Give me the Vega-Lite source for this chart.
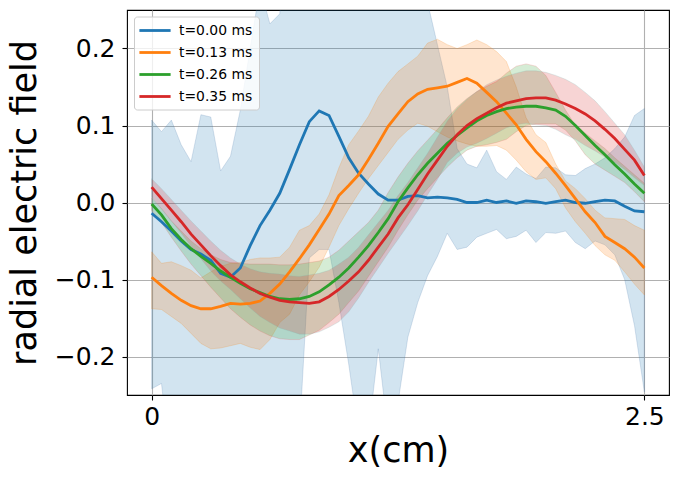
{
  "$schema": "https://vega.github.io/schema/vega-lite/v6.json",
  "width": 542,
  "height": 385,
  "autosize": "none",
  "padding": {"left": 127, "top": 10, "right": 10, "bottom": 87},
  "background": "white",
  "config": {
    "font": "DejaVu Sans",
    "view": {"stroke": "#000000", "strokeWidth": 1.1},
    "axis": {
      "domain": false,
      "grid": true,
      "gridColor": "#b0b0b0",
      "gridWidth": 1.1,
      "tickColor": "#000000",
      "tickSize": 5,
      "tickWidth": 1.1,
      "labelFont": "DejaVu Sans",
      "labelFontSize": 25,
      "labelColor": "#000000",
      "titleFont": "DejaVu Sans",
      "titleFontSize": 35,
      "titleFontWeight": "normal",
      "titleColor": "#000000"
    }
  },
  "data": {
    "values": [
      {"t": "t=0.00 ms", "x": 0, "y": -0.014, "lo": -0.242, "hi": 0.107},
      {"t": "t=0.00 ms", "x": 0.05, "y": -0.025, "lo": -0.235, "hi": 0.092},
      {"t": "t=0.00 ms", "x": 0.1, "y": -0.037, "lo": -0.35, "hi": 0.107},
      {"t": "t=0.00 ms", "x": 0.15, "y": -0.05, "lo": -0.35, "hi": 0.075},
      {"t": "t=0.00 ms", "x": 0.2, "y": -0.061, "lo": -0.35, "hi": 0.053},
      {"t": "t=0.00 ms", "x": 0.25, "y": -0.067, "lo": -0.35, "hi": 0.114},
      {"t": "t=0.00 ms", "x": 0.3, "y": -0.075, "lo": -0.35, "hi": 0.111},
      {"t": "t=0.00 ms", "x": 0.35, "y": -0.092, "lo": -0.35, "hi": 0.041},
      {"t": "t=0.00 ms", "x": 0.4, "y": -0.097, "lo": -0.35, "hi": 0.06},
      {"t": "t=0.00 ms", "x": 0.45, "y": -0.085, "lo": -0.35, "hi": 0.12},
      {"t": "t=0.00 ms", "x": 0.5, "y": -0.056, "lo": -0.35, "hi": 0.2},
      {"t": "t=0.00 ms", "x": 0.55, "y": -0.03, "lo": -0.35, "hi": 0.28},
      {"t": "t=0.00 ms", "x": 0.6, "y": -0.01, "lo": -0.35, "hi": 0.232},
      {"t": "t=0.00 ms", "x": 0.65, "y": 0.012, "lo": -0.35, "hi": 0.245},
      {"t": "t=0.00 ms", "x": 0.7, "y": 0.043, "lo": -0.35, "hi": 0.4},
      {"t": "t=0.00 ms", "x": 0.75, "y": 0.075, "lo": -0.3, "hi": 0.4},
      {"t": "t=0.00 ms", "x": 0.8, "y": 0.105, "lo": -0.072, "hi": 0.4},
      {"t": "t=0.00 ms", "x": 0.85, "y": 0.119, "lo": -0.061, "hi": 0.4},
      {"t": "t=0.00 ms", "x": 0.9, "y": 0.113, "lo": -0.061, "hi": 0.4},
      {"t": "t=0.00 ms", "x": 0.95, "y": 0.086, "lo": -0.13, "hi": 0.4},
      {"t": "t=0.00 ms", "x": 1.0, "y": 0.058, "lo": -0.21, "hi": 0.4},
      {"t": "t=0.00 ms", "x": 1.05, "y": 0.038, "lo": -0.3, "hi": 0.4},
      {"t": "t=0.00 ms", "x": 1.1, "y": 0.024, "lo": -0.3, "hi": 0.4},
      {"t": "t=0.00 ms", "x": 1.15, "y": 0.011, "lo": -0.19, "hi": 0.4},
      {"t": "t=0.00 ms", "x": 1.2, "y": 0.003, "lo": -0.3, "hi": 0.4},
      {"t": "t=0.00 ms", "x": 1.25, "y": 0.003, "lo": -0.26, "hi": 0.4},
      {"t": "t=0.00 ms", "x": 1.3, "y": 0.008, "lo": -0.175, "hi": 0.4},
      {"t": "t=0.00 ms", "x": 1.35, "y": 0.009, "lo": -0.13, "hi": 0.4},
      {"t": "t=0.00 ms", "x": 1.4, "y": 0.006, "lo": -0.095, "hi": 0.26},
      {"t": "t=0.00 ms", "x": 1.45, "y": 0.007, "lo": -0.07, "hi": 0.205},
      {"t": "t=0.00 ms", "x": 1.5, "y": 0.006, "lo": -0.04, "hi": 0.15},
      {"t": "t=0.00 ms", "x": 1.55, "y": 0.004, "lo": -0.061, "hi": 0.07},
      {"t": "t=0.00 ms", "x": 1.6, "y": 0.0, "lo": -0.058, "hi": 0.05},
      {"t": "t=0.00 ms", "x": 1.65, "y": 0.0, "lo": -0.045, "hi": 0.045},
      {"t": "t=0.00 ms", "x": 1.7, "y": 0.003, "lo": -0.04, "hi": 0.068},
      {"t": "t=0.00 ms", "x": 1.75, "y": 0.0, "lo": -0.035, "hi": 0.04},
      {"t": "t=0.00 ms", "x": 1.8, "y": 0.002, "lo": -0.047, "hi": 0.03},
      {"t": "t=0.00 ms", "x": 1.85, "y": -0.001, "lo": -0.044, "hi": 0.046},
      {"t": "t=0.00 ms", "x": 1.9, "y": 0.002, "lo": -0.036, "hi": 0.037},
      {"t": "t=0.00 ms", "x": 1.95, "y": 0.001, "lo": -0.052, "hi": 0.031},
      {"t": "t=0.00 ms", "x": 2.0, "y": -0.001, "lo": -0.039, "hi": 0.046},
      {"t": "t=0.00 ms", "x": 2.05, "y": 0.001, "lo": -0.04, "hi": 0.045},
      {"t": "t=0.00 ms", "x": 2.1, "y": 0.003, "lo": -0.037, "hi": 0.036},
      {"t": "t=0.00 ms", "x": 2.15, "y": 0.0, "lo": -0.052, "hi": 0.035},
      {"t": "t=0.00 ms", "x": 2.2, "y": -0.001, "lo": -0.06, "hi": 0.044},
      {"t": "t=0.00 ms", "x": 2.25, "y": 0.001, "lo": -0.05, "hi": 0.05},
      {"t": "t=0.00 ms", "x": 2.3, "y": 0.003, "lo": -0.055, "hi": 0.058},
      {"t": "t=0.00 ms", "x": 2.35, "y": 0.002, "lo": -0.068, "hi": 0.07},
      {"t": "t=0.00 ms", "x": 2.4, "y": -0.005, "lo": -0.1, "hi": 0.085},
      {"t": "t=0.00 ms", "x": 2.45, "y": -0.011, "lo": -0.16, "hi": 0.113},
      {"t": "t=0.00 ms", "x": 2.5, "y": -0.012, "lo": -0.246, "hi": 0.122},

      {"t": "t=0.13 ms", "x": 0, "y": -0.097, "lo": -0.138, "hi": -0.064},
      {"t": "t=0.13 ms", "x": 0.05, "y": -0.108, "lo": -0.139, "hi": -0.079},
      {"t": "t=0.13 ms", "x": 0.1, "y": -0.118, "lo": -0.148, "hi": -0.077},
      {"t": "t=0.13 ms", "x": 0.15, "y": -0.127, "lo": -0.157, "hi": -0.082},
      {"t": "t=0.13 ms", "x": 0.2, "y": -0.134, "lo": -0.17, "hi": -0.088},
      {"t": "t=0.13 ms", "x": 0.25, "y": -0.138, "lo": -0.183, "hi": -0.098},
      {"t": "t=0.13 ms", "x": 0.3, "y": -0.138, "lo": -0.19, "hi": -0.09},
      {"t": "t=0.13 ms", "x": 0.35, "y": -0.135, "lo": -0.189, "hi": -0.083},
      {"t": "t=0.13 ms", "x": 0.4, "y": -0.131, "lo": -0.186, "hi": -0.079},
      {"t": "t=0.13 ms", "x": 0.45, "y": -0.132, "lo": -0.183, "hi": -0.078},
      {"t": "t=0.13 ms", "x": 0.5, "y": -0.131, "lo": -0.188, "hi": -0.074},
      {"t": "t=0.13 ms", "x": 0.55, "y": -0.128, "lo": -0.191, "hi": -0.072},
      {"t": "t=0.13 ms", "x": 0.6, "y": -0.118, "lo": -0.178, "hi": -0.072},
      {"t": "t=0.13 ms", "x": 0.65, "y": -0.106, "lo": -0.156, "hi": -0.071},
      {"t": "t=0.13 ms", "x": 0.7, "y": -0.09, "lo": -0.145, "hi": -0.058},
      {"t": "t=0.13 ms", "x": 0.75, "y": -0.073, "lo": -0.12, "hi": -0.036},
      {"t": "t=0.13 ms", "x": 0.8, "y": -0.055, "lo": -0.103, "hi": -0.03},
      {"t": "t=0.13 ms", "x": 0.85, "y": -0.035, "lo": -0.084, "hi": -0.015},
      {"t": "t=0.13 ms", "x": 0.9, "y": -0.015, "lo": -0.058, "hi": 0.01},
      {"t": "t=0.13 ms", "x": 0.95, "y": 0.009, "lo": -0.03, "hi": 0.045},
      {"t": "t=0.13 ms", "x": 1.0, "y": 0.022, "lo": -0.008, "hi": 0.075},
      {"t": "t=0.13 ms", "x": 1.05, "y": 0.036, "lo": 0.012, "hi": 0.093},
      {"t": "t=0.13 ms", "x": 1.1, "y": 0.056, "lo": 0.031, "hi": 0.112},
      {"t": "t=0.13 ms", "x": 1.15, "y": 0.077, "lo": 0.048, "hi": 0.137},
      {"t": "t=0.13 ms", "x": 1.2, "y": 0.099, "lo": 0.065, "hi": 0.155},
      {"t": "t=0.13 ms", "x": 1.25, "y": 0.115, "lo": 0.082, "hi": 0.17},
      {"t": "t=0.13 ms", "x": 1.3, "y": 0.131, "lo": 0.094, "hi": 0.18},
      {"t": "t=0.13 ms", "x": 1.35, "y": 0.141, "lo": 0.103, "hi": 0.19},
      {"t": "t=0.13 ms", "x": 1.4, "y": 0.147, "lo": 0.099, "hi": 0.207},
      {"t": "t=0.13 ms", "x": 1.45, "y": 0.149, "lo": 0.092, "hi": 0.212},
      {"t": "t=0.13 ms", "x": 1.5, "y": 0.151, "lo": 0.085, "hi": 0.205},
      {"t": "t=0.13 ms", "x": 1.55, "y": 0.156, "lo": 0.08, "hi": 0.2},
      {"t": "t=0.13 ms", "x": 1.6, "y": 0.161, "lo": 0.076, "hi": 0.205},
      {"t": "t=0.13 ms", "x": 1.65, "y": 0.155, "lo": 0.073, "hi": 0.211},
      {"t": "t=0.13 ms", "x": 1.7, "y": 0.143, "lo": 0.073, "hi": 0.205},
      {"t": "t=0.13 ms", "x": 1.75, "y": 0.131, "lo": 0.074, "hi": 0.196},
      {"t": "t=0.13 ms", "x": 1.8, "y": 0.116, "lo": 0.068, "hi": 0.183},
      {"t": "t=0.13 ms", "x": 1.85, "y": 0.101, "lo": 0.055, "hi": 0.15},
      {"t": "t=0.13 ms", "x": 1.9, "y": 0.082, "lo": 0.04, "hi": 0.11},
      {"t": "t=0.13 ms", "x": 1.95, "y": 0.066, "lo": 0.03, "hi": 0.088},
      {"t": "t=0.13 ms", "x": 2.0, "y": 0.053, "lo": 0.032, "hi": 0.078},
      {"t": "t=0.13 ms", "x": 2.05, "y": 0.038, "lo": 0.018, "hi": 0.05},
      {"t": "t=0.13 ms", "x": 2.1, "y": 0.022, "lo": -0.007, "hi": 0.028},
      {"t": "t=0.13 ms", "x": 2.15, "y": 0.005, "lo": -0.025, "hi": 0.018},
      {"t": "t=0.13 ms", "x": 2.2, "y": -0.012, "lo": -0.04, "hi": 0.005},
      {"t": "t=0.13 ms", "x": 2.25, "y": -0.026, "lo": -0.056, "hi": -0.01},
      {"t": "t=0.13 ms", "x": 2.3, "y": -0.044, "lo": -0.068, "hi": -0.02},
      {"t": "t=0.13 ms", "x": 2.35, "y": -0.052, "lo": -0.075, "hi": -0.021},
      {"t": "t=0.13 ms", "x": 2.4, "y": -0.06, "lo": -0.09, "hi": -0.022},
      {"t": "t=0.13 ms", "x": 2.45, "y": -0.071, "lo": -0.106, "hi": -0.03},
      {"t": "t=0.13 ms", "x": 2.5, "y": -0.085, "lo": -0.12, "hi": -0.036},

      {"t": "t=0.26 ms", "x": 0, "y": -0.002, "lo": -0.01, "hi": 0.006},
      {"t": "t=0.26 ms", "x": 0.05, "y": -0.016, "lo": -0.026, "hi": -0.008},
      {"t": "t=0.26 ms", "x": 0.1, "y": -0.034, "lo": -0.045, "hi": -0.024},
      {"t": "t=0.26 ms", "x": 0.15, "y": -0.048, "lo": -0.063, "hi": -0.037},
      {"t": "t=0.26 ms", "x": 0.2, "y": -0.06, "lo": -0.08, "hi": -0.05},
      {"t": "t=0.26 ms", "x": 0.25, "y": -0.07, "lo": -0.095, "hi": -0.06},
      {"t": "t=0.26 ms", "x": 0.3, "y": -0.079, "lo": -0.11, "hi": -0.068},
      {"t": "t=0.26 ms", "x": 0.35, "y": -0.089, "lo": -0.124, "hi": -0.074},
      {"t": "t=0.26 ms", "x": 0.4, "y": -0.097, "lo": -0.138, "hi": -0.078},
      {"t": "t=0.26 ms", "x": 0.45, "y": -0.105, "lo": -0.149, "hi": -0.079},
      {"t": "t=0.26 ms", "x": 0.5, "y": -0.112, "lo": -0.159, "hi": -0.08},
      {"t": "t=0.26 ms", "x": 0.55, "y": -0.117, "lo": -0.167, "hi": -0.08},
      {"t": "t=0.26 ms", "x": 0.6, "y": -0.122, "lo": -0.173, "hi": -0.08},
      {"t": "t=0.26 ms", "x": 0.65, "y": -0.125, "lo": -0.177, "hi": -0.081},
      {"t": "t=0.26 ms", "x": 0.7, "y": -0.126, "lo": -0.178, "hi": -0.081},
      {"t": "t=0.26 ms", "x": 0.75, "y": -0.125, "lo": -0.178, "hi": -0.08},
      {"t": "t=0.26 ms", "x": 0.8, "y": -0.122, "lo": -0.172, "hi": -0.078},
      {"t": "t=0.26 ms", "x": 0.85, "y": -0.116, "lo": -0.166, "hi": -0.076},
      {"t": "t=0.26 ms", "x": 0.9, "y": -0.107, "lo": -0.156, "hi": -0.071},
      {"t": "t=0.26 ms", "x": 0.95, "y": -0.097, "lo": -0.145, "hi": -0.062},
      {"t": "t=0.26 ms", "x": 1.0, "y": -0.085, "lo": -0.13, "hi": -0.05},
      {"t": "t=0.26 ms", "x": 1.05, "y": -0.071, "lo": -0.115, "hi": -0.038},
      {"t": "t=0.26 ms", "x": 1.1, "y": -0.056, "lo": -0.096, "hi": -0.026},
      {"t": "t=0.26 ms", "x": 1.15, "y": -0.039, "lo": -0.077, "hi": -0.01},
      {"t": "t=0.26 ms", "x": 1.2, "y": -0.021, "lo": -0.058, "hi": 0.013},
      {"t": "t=0.26 ms", "x": 1.25, "y": 0.001, "lo": -0.036, "hi": 0.033},
      {"t": "t=0.26 ms", "x": 1.3, "y": 0.019, "lo": -0.016, "hi": 0.051},
      {"t": "t=0.26 ms", "x": 1.35, "y": 0.036, "lo": 0.003, "hi": 0.067},
      {"t": "t=0.26 ms", "x": 1.4, "y": 0.051, "lo": 0.018, "hi": 0.081},
      {"t": "t=0.26 ms", "x": 1.45, "y": 0.064, "lo": 0.032, "hi": 0.095},
      {"t": "t=0.26 ms", "x": 1.5, "y": 0.077, "lo": 0.046, "hi": 0.11},
      {"t": "t=0.26 ms", "x": 1.55, "y": 0.087, "lo": 0.058, "hi": 0.124},
      {"t": "t=0.26 ms", "x": 1.6, "y": 0.097, "lo": 0.068, "hi": 0.135},
      {"t": "t=0.26 ms", "x": 1.65, "y": 0.106, "lo": 0.073, "hi": 0.144},
      {"t": "t=0.26 ms", "x": 1.7, "y": 0.113, "lo": 0.075, "hi": 0.151},
      {"t": "t=0.26 ms", "x": 1.75, "y": 0.118, "lo": 0.078, "hi": 0.157},
      {"t": "t=0.26 ms", "x": 1.8, "y": 0.122, "lo": 0.082, "hi": 0.168},
      {"t": "t=0.26 ms", "x": 1.85, "y": 0.124, "lo": 0.092, "hi": 0.177},
      {"t": "t=0.26 ms", "x": 1.9, "y": 0.125, "lo": 0.1, "hi": 0.18},
      {"t": "t=0.26 ms", "x": 1.95, "y": 0.125, "lo": 0.102, "hi": 0.177},
      {"t": "t=0.26 ms", "x": 2.0, "y": 0.123, "lo": 0.102, "hi": 0.165},
      {"t": "t=0.26 ms", "x": 2.05, "y": 0.12, "lo": 0.102, "hi": 0.143},
      {"t": "t=0.26 ms", "x": 2.1, "y": 0.112, "lo": 0.094, "hi": 0.12},
      {"t": "t=0.26 ms", "x": 2.15, "y": 0.1, "lo": 0.08, "hi": 0.1},
      {"t": "t=0.26 ms", "x": 2.2, "y": 0.087, "lo": 0.062, "hi": 0.09},
      {"t": "t=0.26 ms", "x": 2.25, "y": 0.074, "lo": 0.05, "hi": 0.08},
      {"t": "t=0.26 ms", "x": 2.3, "y": 0.062, "lo": 0.042, "hi": 0.07},
      {"t": "t=0.26 ms", "x": 2.35, "y": 0.049, "lo": 0.034, "hi": 0.058},
      {"t": "t=0.26 ms", "x": 2.4, "y": 0.037, "lo": 0.026, "hi": 0.047},
      {"t": "t=0.26 ms", "x": 2.45, "y": 0.024, "lo": 0.014, "hi": 0.036},
      {"t": "t=0.26 ms", "x": 2.5, "y": 0.012, "lo": 0.001, "hi": 0.025},

      {"t": "t=0.35 ms", "x": 0, "y": 0.02, "lo": 0.007, "hi": 0.031},
      {"t": "t=0.35 ms", "x": 0.05, "y": 0.005, "lo": -0.008, "hi": 0.018},
      {"t": "t=0.35 ms", "x": 0.1, "y": -0.01, "lo": -0.024, "hi": 0.004},
      {"t": "t=0.35 ms", "x": 0.15, "y": -0.025, "lo": -0.04, "hi": -0.01},
      {"t": "t=0.35 ms", "x": 0.2, "y": -0.041, "lo": -0.057, "hi": -0.024},
      {"t": "t=0.35 ms", "x": 0.25, "y": -0.055, "lo": -0.073, "hi": -0.037},
      {"t": "t=0.35 ms", "x": 0.3, "y": -0.069, "lo": -0.089, "hi": -0.05},
      {"t": "t=0.35 ms", "x": 0.35, "y": -0.082, "lo": -0.102, "hi": -0.062},
      {"t": "t=0.35 ms", "x": 0.4, "y": -0.094, "lo": -0.113, "hi": -0.072},
      {"t": "t=0.35 ms", "x": 0.45, "y": -0.103, "lo": -0.125, "hi": -0.08},
      {"t": "t=0.35 ms", "x": 0.5, "y": -0.111, "lo": -0.137, "hi": -0.086},
      {"t": "t=0.35 ms", "x": 0.55, "y": -0.118, "lo": -0.148, "hi": -0.09},
      {"t": "t=0.35 ms", "x": 0.6, "y": -0.123, "lo": -0.156, "hi": -0.092},
      {"t": "t=0.35 ms", "x": 0.65, "y": -0.127, "lo": -0.163, "hi": -0.093},
      {"t": "t=0.35 ms", "x": 0.7, "y": -0.129, "lo": -0.167, "hi": -0.095},
      {"t": "t=0.35 ms", "x": 0.75, "y": -0.13, "lo": -0.171, "hi": -0.096},
      {"t": "t=0.35 ms", "x": 0.8, "y": -0.131, "lo": -0.171, "hi": -0.094},
      {"t": "t=0.35 ms", "x": 0.85, "y": -0.129, "lo": -0.168, "hi": -0.092},
      {"t": "t=0.35 ms", "x": 0.9, "y": -0.122, "lo": -0.162, "hi": -0.088},
      {"t": "t=0.35 ms", "x": 0.95, "y": -0.113, "lo": -0.155, "hi": -0.08},
      {"t": "t=0.35 ms", "x": 1.0, "y": -0.102, "lo": -0.142, "hi": -0.071},
      {"t": "t=0.35 ms", "x": 1.05, "y": -0.09, "lo": -0.124, "hi": -0.058},
      {"t": "t=0.35 ms", "x": 1.1, "y": -0.075, "lo": -0.104, "hi": -0.042},
      {"t": "t=0.35 ms", "x": 1.15, "y": -0.058, "lo": -0.085, "hi": -0.026},
      {"t": "t=0.35 ms", "x": 1.2, "y": -0.041, "lo": -0.066, "hi": -0.01},
      {"t": "t=0.35 ms", "x": 1.25, "y": -0.02, "lo": -0.048, "hi": 0.009},
      {"t": "t=0.35 ms", "x": 1.3, "y": -0.003, "lo": -0.03, "hi": 0.026},
      {"t": "t=0.35 ms", "x": 1.35, "y": 0.017, "lo": -0.011, "hi": 0.045},
      {"t": "t=0.35 ms", "x": 1.4, "y": 0.037, "lo": 0.01, "hi": 0.064},
      {"t": "t=0.35 ms", "x": 1.45, "y": 0.055, "lo": 0.03, "hi": 0.085},
      {"t": "t=0.35 ms", "x": 1.5, "y": 0.073, "lo": 0.052, "hi": 0.106},
      {"t": "t=0.35 ms", "x": 1.55, "y": 0.088, "lo": 0.064, "hi": 0.122},
      {"t": "t=0.35 ms", "x": 1.6, "y": 0.1, "lo": 0.072, "hi": 0.134},
      {"t": "t=0.35 ms", "x": 1.65, "y": 0.109, "lo": 0.077, "hi": 0.144},
      {"t": "t=0.35 ms", "x": 1.7, "y": 0.116, "lo": 0.083, "hi": 0.153},
      {"t": "t=0.35 ms", "x": 1.75, "y": 0.123, "lo": 0.09, "hi": 0.159},
      {"t": "t=0.35 ms", "x": 1.8, "y": 0.129, "lo": 0.097, "hi": 0.164},
      {"t": "t=0.35 ms", "x": 1.85, "y": 0.132, "lo": 0.101, "hi": 0.168},
      {"t": "t=0.35 ms", "x": 1.9, "y": 0.135, "lo": 0.103, "hi": 0.171},
      {"t": "t=0.35 ms", "x": 1.95, "y": 0.136, "lo": 0.101, "hi": 0.171},
      {"t": "t=0.35 ms", "x": 2.0, "y": 0.136, "lo": 0.1, "hi": 0.169},
      {"t": "t=0.35 ms", "x": 2.05, "y": 0.133, "lo": 0.095, "hi": 0.165},
      {"t": "t=0.35 ms", "x": 2.1, "y": 0.128, "lo": 0.088, "hi": 0.16},
      {"t": "t=0.35 ms", "x": 2.15, "y": 0.122, "lo": 0.082, "hi": 0.153},
      {"t": "t=0.35 ms", "x": 2.2, "y": 0.115, "lo": 0.074, "hi": 0.143},
      {"t": "t=0.35 ms", "x": 2.25, "y": 0.106, "lo": 0.067, "hi": 0.132},
      {"t": "t=0.35 ms", "x": 2.3, "y": 0.095, "lo": 0.059, "hi": 0.118},
      {"t": "t=0.35 ms", "x": 2.35, "y": 0.083, "lo": 0.052, "hi": 0.103},
      {"t": "t=0.35 ms", "x": 2.4, "y": 0.069, "lo": 0.043, "hi": 0.088},
      {"t": "t=0.35 ms", "x": 2.45, "y": 0.055, "lo": 0.032, "hi": 0.068},
      {"t": "t=0.35 ms", "x": 2.5, "y": 0.035, "lo": 0.022, "hi": 0.046}
    ]
  },
  "encoding": {
    "x": {
      "field": "x",
      "type": "quantitative",
      "title": "x(cm)",
      "scale": {"domain": [-0.125, 2.625], "nice": false, "zero": false},
      "axis": {"values": [0, 2.5], "labelExpr": "datum.value == 0 ? '0' : '2.5'", "labelFontSize": 25, "labelPadding": 4, "titlePadding": 4, "titleFontSize": 35}
    },
    "color": {
      "field": "t",
      "type": "nominal",
      "scale": {
        "domain": ["t=0.00 ms", "t=0.13 ms", "t=0.26 ms", "t=0.35 ms"],
        "range": ["#1f77b4", "#ff7f0e", "#2ca02c", "#d62728"]
      },
      "legend": {
        "title": null,
        "orient": "none",
        "legendX": 7,
        "legendY": 6.5,
        "fillColor": "rgba(255,255,255,0.8)",
        "strokeColor": "#cccccc",
        "cornerRadius": 3,
        "padding": 6,
        "symbolType": "M-2.4,0H2.4",
        "symbolSize": 169,
        "symbolOffset": 7,
        "symbolStrokeWidth": 2.8,
        "symbolStrokeColor": {"expr": "scale('color', datum.value)"},
        "symbolOpacity": 1,
        "labelFontSize": 13.9,
        "labelFont": "DejaVu Sans",
        "labelColor": "#000000",
        "labelOffset": 16,
        "rowPadding": 7
      }
    }
  },
  "layer": [
    {
      "mark": {"type": "area", "clip": true, "fillOpacity": 0.2, "strokeOpacity": 0.2, "strokeWidth": 1},
      "encoding": {
        "y": {
          "field": "lo",
          "type": "quantitative",
          "title": "radial electric field",
          "scale": {"domain": [-0.25, 0.25], "nice": false, "zero": false},
          "axis": {"values": [-0.2, -0.1, 0, 0.1, 0.2], "format": ".1f", "labelFontSize": 25, "labelPadding": 7, "titlePadding": 12, "titleFontSize": 35}
        },
        "y2": {"field": "hi"},
        "stroke": {"field": "t", "type": "nominal", "legend": null}
      }
    },
    {
      "mark": {"type": "line", "clip": true, "strokeWidth": 2.8},
      "encoding": {
        "y": {"field": "y", "type": "quantitative"}
      }
    }
  ]
}
